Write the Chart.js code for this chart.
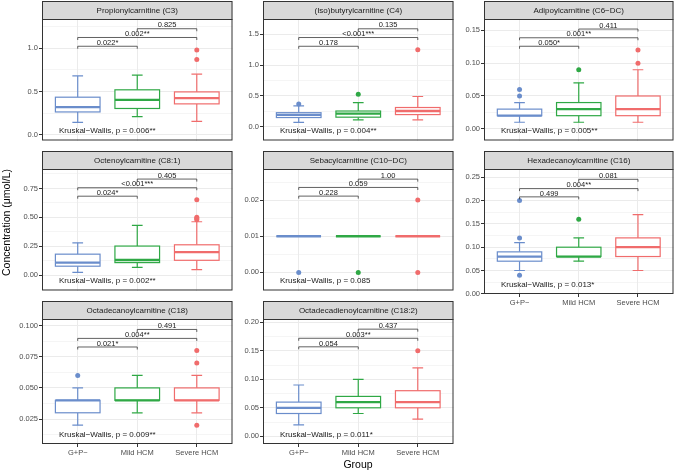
<!DOCTYPE html>
<html>
<head>
<meta charset="utf-8">
<script src="https://cdn.jsdelivr.net/npm/chart.js@4.4.1/dist/chart.umd.min.js"></script>
<style>
  html, body { margin: 0; padding: 0; background: #ffffff; }
  #wrap { position: relative; width: 676px; height: 473px; overflow: hidden; background: #ffffff; }
  #wrap canvas { position: absolute; }
</style>
</head>
<body>
<div id="wrap"></div>
<script>
// ---------------- DATA ----------------
const GROUPS = ['G+P−', 'Mild HCM', 'Severe HCM'];
const PANEL_TITLES = ['Propionylcarnitine (C3)', '(Iso)butyrylcarnitine (C4)', 'Adipoylcarnitine (C6−DC)',
  'Octenoylcarnitine (C8:1)', 'Sebacylcarnitine (C10−DC)', 'Hexadecanoylcarnitine (C16)',
  'Octadecanoylcarnitine (C18)', 'Octadecadienoylcarnitine (C18:2)'];
const SIG_PAIRS = [[1, 2], [1, 3], [2, 3]];
const Y_TITLE = 'Concentration (μmol/L)';
const X_TITLE = 'Group';

// box stats per group: [lower whisker, Q1, median, Q3, upper whisker]
const C3_BOX = [[0.145, 0.265, 0.32, 0.435, 0.68], [0.21, 0.305, 0.405, 0.52, 0.69], [0.157, 0.358, 0.425, 0.496, 0.70]];
const C3_OUT = [[], [], [0.98, 0.87]];
const C3_SIG_Y = [1.022, 1.123, 1.224];
const C3_SIG = ['0.022*', '0.002**', '0.825'];
const C3_KW = 'Kruskal−Wallis, p = 0.006**';
const C3_TICKS = [0, 0.5, 1.0];
const C3_TICK_LABELS = ['0.0', '0.5', '1.0'];
const C3_LIM = [-0.064, 1.336];

const C4_BOX = [[0.068, 0.147, 0.189, 0.226, 0.337], [0.11, 0.153, 0.211, 0.253, 0.389], [0.11, 0.195, 0.253, 0.31, 0.489]];
const C4_OUT = [[0.368], [0.526], [1.247]];
const C4_SIG_Y = [1.305, 1.447, 1.589];
const C4_SIG = ['0.178', '<0.001***', '0.135'];
const C4_KW = 'Kruskal−Wallis, p = 0.004**';
const C4_TICKS = [0, 0.5, 1.0, 1.5];
const C4_TICK_LABELS = ['0.0', '0.5', '1.0', '1.5'];
const C4_LIM = [-0.226, 1.748];

const C6_BOX = [[0.01, 0.02, 0.02, 0.03, 0.04], [0.01, 0.02, 0.03, 0.04, 0.07], [0.01, 0.02, 0.03, 0.05, 0.09]];
const C6_OUT = [[0.06, 0.05], [0.09], [0.12, 0.10]];
const C6_SIG_Y = [0.1258, 0.1387, 0.152];
const C6_SIG = ['0.050*', '0.001**', '0.411'];
const C6_KW = 'Kruskal−Wallis, p = 0.005**';
const C6_TICKS = [0, 0.05, 0.10, 0.15];
const C6_TICK_LABELS = ['0.00', '0.05', '0.10', '0.15'];
const C6_LIM = [-0.0178, 0.1673];

const C81_BOX = [[0.025, 0.078, 0.109, 0.182, 0.28], [0.067, 0.109, 0.1315, 0.252, 0.431], [0.048, 0.129, 0.199, 0.263, 0.462]];
const C81_OUT = [[], [], [0.652, 0.50, 0.49, 0.48]];
const C81_SIG_Y = [0.683, 0.756, 0.831];
const C81_SIG = ['0.024*', '<0.001***', '0.405'];
const C81_KW = 'Kruskal−Wallis, p = 0.002**';
const C81_TICKS = [0, 0.25, 0.50, 0.75];
const C81_TICK_LABELS = ['0.00', '0.25', '0.50', '0.75'];
const C81_LIM = [-0.132, 0.918];

const C10_BOX = [[0.01, 0.01, 0.01, 0.01, 0.01], [0.01, 0.01, 0.01, 0.01, 0.01], [0.01, 0.01, 0.01, 0.01, 0.01]];
const C10_OUT = [[0.00], [0.00], [0.00, 0.02]];
const C10_SIG_Y = [0.0211, 0.0235, 0.0258];
const C10_SIG = ['0.228', '0.059', '1.00'];
const C10_KW = 'Kruskal−Wallis, p = 0.085';
const C10_TICKS = [0, 0.01, 0.02];
const C10_TICK_LABELS = ['0.00', '0.01', '0.02'];
const C10_LIM = [-0.005, 0.0286];

const C16_BOX = [[0.05, 0.07, 0.08, 0.09, 0.11], [0.07, 0.08, 0.08, 0.10, 0.12], [0.05, 0.08, 0.10, 0.12, 0.17]];
const C16_OUT = [[0.20, 0.12, 0.04], [0.16], []];
const C16_SIG_Y = [0.208, 0.2257, 0.2457];
const C16_SIG = ['0.499', '0.004**', '0.081'];
const C16_KW = 'Kruskal−Wallis, p = 0.013*';
const C16_TICKS = [0, 0.05, 0.10, 0.15, 0.20, 0.25];
const C16_TICK_LABELS = ['0.00', '0.05', '0.10', '0.15', '0.20', '0.25'];
const C16_LIM = [-0.0004, 0.2678];

const C18_BOX = [[0.02, 0.03, 0.04, 0.04, 0.05], [0.03, 0.04, 0.04, 0.05, 0.06], [0.03, 0.04, 0.04, 0.05, 0.06]];
const C18_OUT = [[0.06], [], [0.08, 0.07, 0.02]];
const C18_SIG_Y = [0.0829, 0.0898, 0.097];
const C18_SIG = ['0.021*', '0.004**', '0.491'];
const C18_KW = 'Kruskal−Wallis, p = 0.009**';
const C18_TICKS = [0.025, 0.050, 0.075, 0.100];
const C18_TICK_LABELS = ['0.025', '0.050', '0.075', '0.100'];
const C18_LIM = [0.0049, 0.1054];

const C182_BOX = [[0.02, 0.04, 0.05, 0.06, 0.09], [0.04, 0.05, 0.06, 0.07, 0.10], [0.03, 0.05, 0.06, 0.08, 0.12]];
const C182_OUT = [[], [], [0.15]];
const C182_SIG_Y = [0.157, 0.172, 0.188];
const C182_SIG = ['0.054', '0.003**', '0.437'];
const C182_KW = 'Kruskal−Wallis, p = 0.011*';
const C182_TICKS = [0, 0.05, 0.10, 0.15, 0.20];
const C182_TICK_LABELS = ['0.00', '0.05', '0.10', '0.15', '0.20'];
const C182_LIM = [-0.0135, 0.2058];

// ---------------- STYLE / LAYOUT ----------------
const COLORS = ['#6A8DCB', '#2FA845', '#F06C6C'];
const FONT = '"Liberation Sans", Arial, Helvetica, sans-serif';
const COL_LEFT = [42, 263, 484];
const COL_RIGHT = [233, 454, 674];
const ROW_STRIP_TOP = [1, 151, 301];
const ROW_STRIP_BOTTOM = [19, 169, 319];
const ROW_PLOT_BOTTOM = [144, 294, 444];
const Y_AXIS_W = 42;

const PANELS = [
  { box: C3_BOX, out: C3_OUT, sigY: C3_SIG_Y, sig: C3_SIG, kw: C3_KW, ticks: C3_TICKS, tickLabels: C3_TICK_LABELS, lim: C3_LIM },
  { box: C4_BOX, out: C4_OUT, sigY: C4_SIG_Y, sig: C4_SIG, kw: C4_KW, ticks: C4_TICKS, tickLabels: C4_TICK_LABELS, lim: C4_LIM },
  { box: C6_BOX, out: C6_OUT, sigY: C6_SIG_Y, sig: C6_SIG, kw: C6_KW, ticks: C6_TICKS, tickLabels: C6_TICK_LABELS, lim: C6_LIM },
  { box: C81_BOX, out: C81_OUT, sigY: C81_SIG_Y, sig: C81_SIG, kw: C81_KW, ticks: C81_TICKS, tickLabels: C81_TICK_LABELS, lim: C81_LIM },
  { box: C10_BOX, out: C10_OUT, sigY: C10_SIG_Y, sig: C10_SIG, kw: C10_KW, ticks: C10_TICKS, tickLabels: C10_TICK_LABELS, lim: C10_LIM },
  { box: C16_BOX, out: C16_OUT, sigY: C16_SIG_Y, sig: C16_SIG, kw: C16_KW, ticks: C16_TICKS, tickLabels: C16_TICK_LABELS, lim: C16_LIM },
  { box: C18_BOX, out: C18_OUT, sigY: C18_SIG_Y, sig: C18_SIG, kw: C18_KW, ticks: C18_TICKS, tickLabels: C18_TICK_LABELS, lim: C18_LIM },
  { box: C182_BOX, out: C182_OUT, sigY: C182_SIG_Y, sig: C182_SIG, kw: C182_KW, ticks: C182_TICKS, tickLabels: C182_TICK_LABELS, lim: C182_LIM }
];
PANELS.forEach((p, i) => { p.title = PANEL_TITLES[i]; p.col = i % 3; p.row = Math.floor(i / 3); p.hasX = i >= 5; });

Chart.defaults.font.family = FONT;
const wrap = document.getElementById('wrap');

function makeCanvas(left, top, w, h) {
  const c = document.createElement('canvas');
  c.width = w; c.height = h;
  c.style.left = left + 'px'; c.style.top = top + 'px';
  c.style.width = w + 'px'; c.style.height = h + 'px';
  wrap.appendChild(c);
  return c;
}

// ---------------- BACKGROUND CHART: axis titles ----------------
(function () {
  const c = makeCanvas(0, 0, 676, 473);
  new Chart(c, {
    type: 'scatter',
    data: { datasets: [] },
    options: {
      responsive: false, animation: false, events: [],
      layout: { padding: { top: 1, right: 2, left: 0, bottom: 0 } },
      plugins: { legend: { display: false }, tooltip: { enabled: false } },
      scales: {
        x: {
          min: 0, max: 1,
          ticks: { display: false }, grid: { display: false }, border: { display: false },
          title: { display: true, text: X_TITLE, color: '#000', font: { size: 10.5 }, padding: { top: 0, bottom: 1.5 } },
          afterFit: s => { s.height = 29; }
        },
        y: {
          min: 0, max: 1,
          ticks: { display: false }, grid: { display: false }, border: { display: false },
          title: { display: true, text: Y_TITLE, color: '#000', font: { size: 10.5 }, padding: { top: 1, bottom: 0 } },
          afterFit: s => { s.width = Y_AXIS_W; }
        }
      }
    }
  });
})();

// ---------------- PANEL PLUGIN ----------------
function line(ctx, x1, y1, x2, y2) { ctx.beginPath(); ctx.moveTo(x1, y1); ctx.lineTo(x2, y2); ctx.stroke(); }

const boxPlugin = {
  id: 'boxes',
  beforeDatasetsDraw(chart) {
    const p = chart.options.plugins.boxes.panel;
    const ctx = chart.ctx, xs = chart.scales.x, ys = chart.scales.y;
    ctx.save();
    ctx.beginPath();
    ctx.rect(chart.chartArea.left, chart.chartArea.top, chart.chartArea.right - chart.chartArea.left, chart.chartArea.bottom - chart.chartArea.top);
    ctx.clip();
    p.box.forEach((b, g) => {
      const [lo, q1, md, q3, hi] = b;
      const xc = xs.getPixelForValue(g + 1);
      const hw = xs.getPixelForValue(g + 1 + 0.375) - xc;
      const cw = xs.getPixelForValue(g + 1 + 0.09) - xc;
      const yLo = ys.getPixelForValue(lo), yQ1 = ys.getPixelForValue(q1), yMd = ys.getPixelForValue(md);
      const yQ3 = ys.getPixelForValue(q3), yHi = ys.getPixelForValue(hi);
      ctx.strokeStyle = COLORS[g];
      ctx.lineWidth = 1.2;
      line(ctx, xc, yHi, xc, yQ3);
      line(ctx, xc, yQ1, xc, yLo);
      line(ctx, xc - cw, yHi, xc + cw, yHi);
      line(ctx, xc - cw, yLo, xc + cw, yLo);
      ctx.fillStyle = '#ffffff';
      ctx.fillRect(xc - hw, yQ3, 2 * hw, yQ1 - yQ3);
      ctx.strokeRect(xc - hw, yQ3, 2 * hw, yQ1 - yQ3);
      ctx.lineWidth = 2.3;
      line(ctx, xc - hw, yMd, xc + hw, yMd);
    });
    ctx.restore();
  },
  afterDatasetsDraw(chart) {
    const p = chart.options.plugins.boxes.panel;
    const ctx = chart.ctx, xs = chart.scales.x, ys = chart.scales.y;
    ctx.save();
    // significance brackets
    ctx.strokeStyle = '#3a3a3a';
    ctx.lineWidth = 0.8;
    ctx.fillStyle = '#1a1a1a';
    ctx.font = '7.5px ' + FONT;
    ctx.textAlign = 'center';
    ctx.textBaseline = 'alphabetic';
    SIG_PAIRS.forEach((pr, k) => {
      const x1 = xs.getPixelForValue(pr[0]), x2 = xs.getPixelForValue(pr[1]);
      const y = ys.getPixelForValue(p.sigY[k]);
      const tip = 2.5;
      ctx.beginPath();
      ctx.moveTo(x1, y + tip); ctx.lineTo(x1, y); ctx.lineTo(x2, y); ctx.lineTo(x2, y + tip);
      ctx.stroke();
      ctx.fillText(p.sig[k], (x1 + x2) / 2, y - 1.3);
    });
    // Kruskal-Wallis label
    ctx.font = '8px ' + FONT;
    ctx.textAlign = 'left';
    ctx.textBaseline = 'middle';
    ctx.fillText(p.kw, xs.getPixelForValue(0.685), chart.chartArea.bottom - 9.5);
    ctx.restore();
  },
  afterDraw(chart) {
    const p = chart.options.plugins.boxes.panel;
    const ctx = chart.ctx, ca = chart.chartArea;
    const w = ca.right - ca.left;
    ctx.save();
    // strip
    ctx.fillStyle = '#D9D9D9';
    ctx.fillRect(ca.left, 1, w, ca.top - 1);
    ctx.strokeStyle = '#333333';
    ctx.lineWidth = 1;
    ctx.strokeRect(ca.left + 0.5, 1.5, w - 1, ca.top - 1);
    ctx.fillStyle = '#1A1A1A';
    ctx.font = '8px ' + FONT;
    ctx.textAlign = 'center';
    ctx.textBaseline = 'middle';
    ctx.fillText(p.title, ca.left + w / 2, (1 + ca.top) / 2 + 0.7);
    // panel border
    ctx.strokeRect(ca.left + 0.5, ca.top + 0.5, w - 1, ca.bottom - ca.top - 1);
    ctx.restore();
  }
};

// ---------------- PANELS ----------------
PANELS.forEach(p => {
  const left = COL_LEFT[p.col] - Y_AXIS_W;
  const top = ROW_STRIP_TOP[p.row] - 1;
  const bottomExtra = p.hasX ? 22 : 2;
  const w = COL_RIGHT[p.col] - COL_LEFT[p.col] + Y_AXIS_W + 2;
  const h = ROW_PLOT_BOTTOM[p.row] - top + bottomExtra;
  const padTop = ROW_STRIP_BOTTOM[p.row] - top;
  const c = makeCanvas(left, top, w, h);

  // major + minor ticks
  const step = p.ticks[1] - p.ticks[0];
  const all = p.ticks.slice();
  const cand = [p.ticks[0] - step / 2].concat(p.ticks.map(t => t + step / 2));
  cand.forEach(v => { if (v > p.lim[0] && v < p.lim[1]) all.push(v); });
  all.sort((a, b) => a - b);
  const isMajor = v => p.ticks.some(t => Math.abs(t - v) < step * 1e-6);
  const majorLabel = v => { const i = p.ticks.findIndex(t => Math.abs(t - v) < step * 1e-6); return i >= 0 ? p.tickLabels[i] : ''; };

  const datasets = p.out.map((vals, g) => ({
    data: vals.map(v => ({ x: g + 1, y: v })),
    backgroundColor: COLORS[g], borderColor: COLORS[g],
    pointRadius: 2.5, pointHoverRadius: 2.5, borderWidth: 0
  }));

  new Chart(c, {
    type: 'scatter',
    data: { datasets },
    options: {
      responsive: false, animation: false, events: [],
      layout: { padding: { top: padTop, left: 0, right: 2, bottom: 0 } },
      plugins: { legend: { display: false }, tooltip: { enabled: false }, boxes: { panel: p } },
      scales: {
        x: {
          type: 'linear', min: 0.4, max: 3.6,
          afterBuildTicks: s => { s.ticks = [1, 2, 3].map(v => ({ value: v })); },
          afterFit: s => { s.height = bottomExtra; },
          ticks: {
            display: p.hasX, autoSkip: false, maxRotation: 0, minRotation: 0,
            callback: v => GROUPS[Math.round(v) - 1],
            font: { size: 7.5 }, color: '#4D4D4D', padding: 1.5
          },
          grid: { color: '#EBEBEB', lineWidth: 1, drawTicks: p.hasX, tickLength: 3, tickColor: '#333333' },
          border: { display: false }
        },
        y: {
          type: 'linear', min: p.lim[0], max: p.lim[1],
          afterBuildTicks: s => { s.ticks = all.map(v => ({ value: v })); },
          afterFit: s => { s.width = Y_AXIS_W; },
          ticks: {
            autoSkip: false, callback: v => majorLabel(v),
            font: { size: 7.5 }, color: '#4D4D4D', padding: 1
          },
          grid: {
            color: '#EBEBEB',
            lineWidth: ctx => (ctx.tick && isMajor(ctx.tick.value)) ? 1 : 0.5,
            drawTicks: true, tickLength: 3,
            tickColor: ctx => (ctx.tick && isMajor(ctx.tick.value)) ? '#333333' : 'rgba(0,0,0,0)'
          },
          border: { display: false }
        }
      }
    },
    plugins: [boxPlugin]
  });
});
</script>
</body>
</html>
